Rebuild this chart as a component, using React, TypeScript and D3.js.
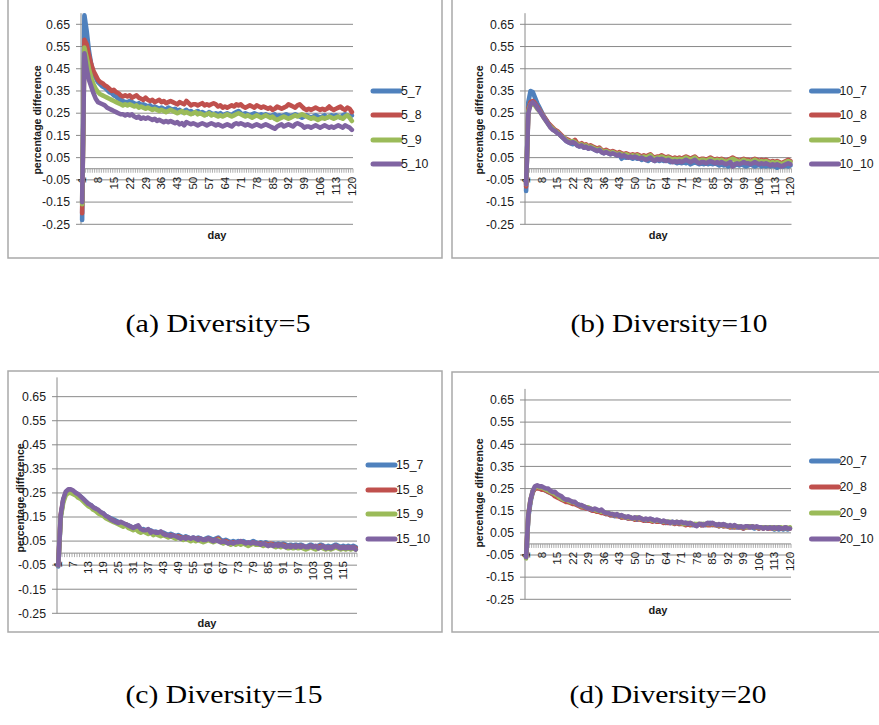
import React from 'react';
import * as d3 from 'd3';

// categories (days) and the labelled ones
const days = d3.range(1, 121);
const ticks7 = [1, 8, 15, 22, 29, 36, 43, 50, 57, 64, 71, 78, 85, 92, 99, 106, 113, 120];
const ticks6 = [1, 7, 13, 19, 25, 31, 37, 43, 49, 55, 61, 67, 73, 79, 85, 91, 97, 103, 109, 115];
const yTicks = [-0.25, -0.15, -0.05, 0.05, 0.15, 0.25, 0.35, 0.45, 0.55, 0.65];
const colors = ['#4F81BD', '#C0504D', '#9BBB59', '#8064A2'];

// Diversity = 5
const d5_7 = [
  -0.23, 0.69, 0.62, 0.53, 0.47, 0.43, 0.41, 0.39, 0.38, 0.37, 0.365, 0.355, 0.345, 0.34, 0.33, 0.325, 0.315, 0.31, 0.305, 0.30,
  0.30, 0.305, 0.30, 0.295, 0.29, 0.295, 0.285, 0.29, 0.285, 0.28, 0.285, 0.275, 0.28, 0.275, 0.27, 0.275, 0.27, 0.265, 0.275, 0.27,
  0.265, 0.27, 0.26, 0.265, 0.255, 0.26, 0.265, 0.255, 0.26, 0.25, 0.255, 0.26, 0.25, 0.255, 0.25, 0.245, 0.255, 0.25, 0.245, 0.25,
  0.245, 0.25, 0.24, 0.245, 0.25, 0.245, 0.24, 0.25, 0.255, 0.26, 0.25, 0.245, 0.25, 0.245, 0.24, 0.245, 0.25, 0.245, 0.24, 0.245,
  0.24, 0.245, 0.24, 0.235, 0.24, 0.245, 0.235, 0.24, 0.235, 0.24, 0.245, 0.24, 0.235, 0.24, 0.245, 0.24, 0.235, 0.23, 0.235, 0.24,
  0.235, 0.23, 0.235, 0.24, 0.235, 0.23, 0.235, 0.24, 0.23, 0.235, 0.24, 0.235, 0.24, 0.235, 0.23, 0.24, 0.245, 0.24, 0.235, 0.24,
];
const d5_8 = [
  -0.20, 0.58, 0.56, 0.51, 0.47, 0.44, 0.42, 0.40, 0.39, 0.385, 0.375, 0.37, 0.36, 0.35, 0.355, 0.345, 0.34, 0.33, 0.325, 0.33,
  0.325, 0.33, 0.32, 0.325, 0.33, 0.32, 0.315, 0.31, 0.32, 0.31, 0.305, 0.31, 0.30, 0.305, 0.31, 0.30, 0.305, 0.295, 0.30, 0.305,
  0.30, 0.295, 0.29, 0.30, 0.295, 0.29, 0.305, 0.295, 0.285, 0.29, 0.29, 0.285, 0.29, 0.295, 0.285, 0.29, 0.285, 0.29, 0.295, 0.29,
  0.28, 0.285, 0.275, 0.28, 0.275, 0.28, 0.285, 0.28, 0.29, 0.285, 0.29, 0.28, 0.275, 0.28, 0.285, 0.28, 0.275, 0.285, 0.28, 0.275,
  0.28, 0.275, 0.27, 0.275, 0.265, 0.27, 0.28, 0.275, 0.27, 0.275, 0.28, 0.29, 0.285, 0.28, 0.275, 0.285, 0.29, 0.28, 0.27, 0.265,
  0.27, 0.265, 0.27, 0.275, 0.27, 0.265, 0.27, 0.265, 0.27, 0.28, 0.27, 0.265, 0.27, 0.275, 0.28, 0.27, 0.265, 0.275, 0.27, 0.255,
];
const d5_9 = [
  -0.16, 0.545, 0.50, 0.45, 0.41, 0.38, 0.36, 0.345, 0.335, 0.33, 0.325, 0.32, 0.315, 0.31, 0.305, 0.30, 0.295, 0.29, 0.285, 0.29,
  0.285, 0.29, 0.285, 0.28, 0.285, 0.275, 0.28, 0.275, 0.27, 0.275, 0.27, 0.265, 0.27, 0.265, 0.26, 0.265, 0.26, 0.255, 0.26, 0.265,
  0.26, 0.255, 0.25, 0.255, 0.26, 0.25, 0.255, 0.25, 0.245, 0.25, 0.255, 0.245, 0.25, 0.245, 0.24, 0.245, 0.25, 0.24, 0.245, 0.24,
  0.235, 0.24, 0.235, 0.24, 0.245, 0.24, 0.235, 0.24, 0.245, 0.25, 0.245, 0.24, 0.235, 0.24, 0.235, 0.23, 0.235, 0.24, 0.235, 0.23,
  0.235, 0.24, 0.235, 0.23, 0.235, 0.225, 0.22, 0.225, 0.23, 0.235, 0.23, 0.225, 0.23, 0.235, 0.24, 0.235, 0.24, 0.245, 0.24, 0.235,
  0.23, 0.225, 0.23, 0.225, 0.22, 0.225, 0.23, 0.225, 0.23, 0.235, 0.23, 0.225, 0.23, 0.235, 0.23, 0.225, 0.235, 0.24, 0.23, 0.215,
];
const d5_10 = [
  -0.15, 0.52, 0.45, 0.40, 0.37, 0.34, 0.315, 0.30, 0.295, 0.29, 0.285, 0.275, 0.27, 0.265, 0.26, 0.255, 0.25, 0.245, 0.245, 0.24,
  0.245, 0.24, 0.245, 0.235, 0.23, 0.235, 0.225, 0.23, 0.225, 0.23, 0.225, 0.22, 0.225, 0.215, 0.22, 0.215, 0.21, 0.215, 0.21, 0.215,
  0.21, 0.205, 0.21, 0.20, 0.205, 0.195, 0.21, 0.205, 0.20, 0.205, 0.20, 0.195, 0.20, 0.205, 0.20, 0.195, 0.20, 0.205, 0.20, 0.195,
  0.20, 0.195, 0.19, 0.195, 0.20, 0.195, 0.19, 0.20, 0.205, 0.20, 0.205, 0.20, 0.195, 0.20, 0.195, 0.19, 0.195, 0.20, 0.195, 0.19,
  0.195, 0.20, 0.195, 0.19, 0.185, 0.18, 0.19, 0.195, 0.20, 0.19, 0.195, 0.20, 0.195, 0.19, 0.20, 0.205, 0.20, 0.195, 0.185, 0.19,
  0.19, 0.185, 0.19, 0.195, 0.19, 0.185, 0.19, 0.195, 0.19, 0.185, 0.19, 0.185, 0.19, 0.195, 0.19, 0.185, 0.195, 0.19, 0.185, 0.175,
];

// Diversity = 10
const d10_7 = [
  -0.10, 0.30, 0.35, 0.345, 0.32, 0.295, 0.275, 0.255, 0.235, 0.22, 0.205, 0.19, 0.18, 0.17, 0.165, 0.155, 0.145, 0.135, 0.125, 0.12,
  0.115, 0.11, 0.115, 0.105, 0.10, 0.105, 0.095, 0.10, 0.09, 0.095, 0.09, 0.085, 0.08, 0.085, 0.075, 0.07, 0.075, 0.07, 0.065, 0.07,
  0.065, 0.06, 0.065, 0.045, 0.055, 0.05, 0.055, 0.05, 0.045, 0.05, 0.045, 0.05, 0.04, 0.045, 0.04, 0.035, 0.045, 0.04, 0.035, 0.04,
  0.035, 0.04, 0.035, 0.04, 0.035, 0.03, 0.035, 0.03, 0.025, 0.03, 0.025, 0.03, 0.025, 0.03, 0.02, 0.025, 0.03, 0.025, 0.02, 0.025,
  0.02, 0.025, 0.02, 0.025, 0.02, 0.025, 0.02, 0.015, 0.02, 0.015, 0.02, 0.01, 0.015, 0.02, 0.015, 0.02, 0.015, 0.02, 0.015, 0.01,
  0.015, 0.02, 0.015, 0.01, 0.015, 0.02, 0.01, 0.015, 0.01, 0.015, 0.01, 0.015, 0.01, 0.005, 0.01, 0.015, 0.01, 0.015, 0.01, 0.015,
];
const d10_8 = [
  -0.08, 0.27, 0.30, 0.305, 0.295, 0.28, 0.265, 0.25, 0.235, 0.22, 0.205, 0.195, 0.185, 0.175, 0.17, 0.16, 0.15, 0.14, 0.135, 0.13,
  0.125, 0.12, 0.13, 0.115, 0.11, 0.115, 0.105, 0.11, 0.10, 0.105, 0.10, 0.095, 0.09, 0.095, 0.085, 0.08, 0.085, 0.08, 0.075, 0.08,
  0.075, 0.07, 0.075, 0.07, 0.065, 0.07, 0.065, 0.06, 0.065, 0.06, 0.065, 0.06, 0.055, 0.06, 0.055, 0.06, 0.065, 0.055, 0.05, 0.055,
  0.055, 0.06, 0.055, 0.05, 0.055, 0.05, 0.045, 0.05, 0.045, 0.05, 0.045, 0.05, 0.055, 0.05, 0.045, 0.05, 0.055, 0.045, 0.04, 0.045,
  0.045, 0.04, 0.045, 0.05, 0.045, 0.04, 0.045, 0.04, 0.045, 0.04, 0.035, 0.04, 0.045, 0.05, 0.045, 0.04, 0.035, 0.04, 0.045, 0.04,
  0.04, 0.035, 0.04, 0.045, 0.04, 0.035, 0.04, 0.035, 0.04, 0.035, 0.03, 0.035, 0.03, 0.035, 0.03, 0.025, 0.03, 0.035, 0.04, 0.035,
];
const d10_9 = [
  -0.07, 0.26, 0.29, 0.29, 0.285, 0.27, 0.26, 0.245, 0.23, 0.215, 0.20, 0.19, 0.18, 0.17, 0.165, 0.155, 0.145, 0.14, 0.13, 0.125,
  0.12, 0.125, 0.12, 0.11, 0.105, 0.11, 0.10, 0.105, 0.095, 0.10, 0.095, 0.09, 0.085, 0.09, 0.08, 0.075, 0.08, 0.075, 0.07, 0.075,
  0.07, 0.065, 0.07, 0.065, 0.06, 0.065, 0.06, 0.055, 0.06, 0.055, 0.06, 0.055, 0.05, 0.055, 0.05, 0.055, 0.06, 0.05, 0.045, 0.05,
  0.05, 0.055, 0.05, 0.045, 0.05, 0.045, 0.04, 0.045, 0.04, 0.045, 0.04, 0.045, 0.05, 0.045, 0.04, 0.045, 0.05, 0.04, 0.035, 0.04,
  0.04, 0.035, 0.04, 0.045, 0.04, 0.035, 0.04, 0.035, 0.04, 0.035, 0.03, 0.035, 0.04, 0.045, 0.04, 0.035, 0.03, 0.035, 0.04, 0.035,
  0.035, 0.03, 0.035, 0.04, 0.035, 0.03, 0.035, 0.03, 0.035, 0.03, 0.025, 0.03, 0.025, 0.03, 0.025, 0.02, 0.025, 0.03, 0.035, 0.03,
];
const d10_10 = [
  -0.07, 0.25, 0.29, 0.30, 0.29, 0.275, 0.26, 0.245, 0.23, 0.215, 0.20, 0.185, 0.175, 0.17, 0.16, 0.155, 0.145, 0.135, 0.125, 0.12,
  0.115, 0.12, 0.115, 0.105, 0.10, 0.105, 0.095, 0.10, 0.09, 0.095, 0.09, 0.085, 0.08, 0.085, 0.075, 0.07, 0.075, 0.07, 0.065, 0.07,
  0.065, 0.06, 0.065, 0.055, 0.06, 0.055, 0.05, 0.055, 0.05, 0.055, 0.05, 0.045, 0.05, 0.045, 0.04, 0.045, 0.05, 0.04, 0.035, 0.045,
  0.04, 0.045, 0.04, 0.035, 0.04, 0.035, 0.03, 0.035, 0.03, 0.035, 0.03, 0.035, 0.04, 0.035, 0.03, 0.035, 0.04, 0.03, 0.025, 0.03,
  0.03, 0.025, 0.03, 0.035, 0.03, 0.025, 0.03, 0.025, 0.03, 0.025, 0.02, 0.025, 0.03, 0.01, 0.02, 0.025, 0.02, 0.025, 0.03, 0.025,
  0.025, 0.02, 0.025, 0.03, 0.025, 0.02, 0.025, 0.02, 0.025, 0.02, 0.015, 0.02, 0.015, 0.02, 0.015, 0.01, 0.015, 0.02, 0.025, 0.02,
];

// Diversity = 15
const d15_7 = [
  -0.055, 0.15, 0.22, 0.25, 0.26, 0.26, 0.255, 0.25, 0.24, 0.235, 0.225, 0.215, 0.205, 0.20, 0.19, 0.185, 0.175, 0.17, 0.165, 0.155,
  0.15, 0.145, 0.14, 0.135, 0.13, 0.125, 0.12, 0.12, 0.115, 0.11, 0.105, 0.11, 0.10, 0.095, 0.10, 0.095, 0.09, 0.095, 0.085, 0.09,
  0.085, 0.08, 0.085, 0.08, 0.075, 0.08, 0.075, 0.07, 0.075, 0.07, 0.065, 0.07, 0.065, 0.06, 0.065, 0.06, 0.065, 0.06, 0.055, 0.06,
  0.065, 0.06, 0.055, 0.06, 0.065, 0.055, 0.05, 0.055, 0.05, 0.045, 0.05, 0.045, 0.05, 0.045, 0.05, 0.045, 0.04, 0.045, 0.05, 0.045,
  0.04, 0.045, 0.04, 0.045, 0.04, 0.035, 0.04, 0.035, 0.04, 0.035, 0.04, 0.035, 0.03, 0.035, 0.03, 0.035, 0.03, 0.035, 0.03, 0.025,
  0.03, 0.035, 0.03, 0.025, 0.03, 0.035, 0.03, 0.025, 0.03, 0.025, 0.03, 0.035, 0.03, 0.025, 0.03, 0.025, 0.03, 0.025, 0.03, 0.025,
];
const d15_8 = [
  -0.05, 0.16, 0.22, 0.25, 0.255, 0.255, 0.25, 0.245, 0.235, 0.23, 0.22, 0.21, 0.20, 0.195, 0.185, 0.18, 0.17, 0.165, 0.16, 0.15,
  0.145, 0.14, 0.135, 0.13, 0.125, 0.12, 0.115, 0.12, 0.11, 0.105, 0.10, 0.105, 0.095, 0.09, 0.095, 0.09, 0.085, 0.09, 0.08, 0.085,
  0.08, 0.075, 0.08, 0.075, 0.07, 0.075, 0.07, 0.065, 0.07, 0.065, 0.06, 0.065, 0.06, 0.055, 0.06, 0.055, 0.06, 0.055, 0.05, 0.055,
  0.06, 0.055, 0.05, 0.055, 0.06, 0.05, 0.045, 0.05, 0.045, 0.04, 0.045, 0.04, 0.045, 0.04, 0.045, 0.04, 0.035, 0.04, 0.045, 0.04,
  0.04, 0.04, 0.035, 0.04, 0.035, 0.04, 0.035, 0.03, 0.035, 0.03, 0.035, 0.03, 0.025, 0.03, 0.025, 0.03, 0.025, 0.03, 0.025, 0.02,
  0.025, 0.03, 0.025, 0.02, 0.025, 0.03, 0.025, 0.02, 0.025, 0.02, 0.025, 0.03, 0.025, 0.02, 0.025, 0.02, 0.025, 0.02, 0.025, 0.02,
];
const d15_9 = [
  -0.05, 0.15, 0.21, 0.24, 0.25, 0.25, 0.245, 0.24, 0.23, 0.225, 0.215, 0.205, 0.195, 0.19, 0.18, 0.175, 0.165, 0.16, 0.155, 0.145,
  0.14, 0.135, 0.13, 0.125, 0.12, 0.115, 0.11, 0.115, 0.105, 0.10, 0.095, 0.10, 0.09, 0.085, 0.09, 0.085, 0.08, 0.085, 0.075, 0.08,
  0.075, 0.07, 0.075, 0.07, 0.065, 0.07, 0.065, 0.06, 0.065, 0.06, 0.055, 0.06, 0.055, 0.05, 0.055, 0.05, 0.055, 0.05, 0.045, 0.05,
  0.055, 0.05, 0.045, 0.05, 0.055, 0.045, 0.04, 0.045, 0.04, 0.035, 0.04, 0.035, 0.04, 0.035, 0.04, 0.035, 0.03, 0.035, 0.04, 0.035,
  0.035, 0.035, 0.03, 0.035, 0.03, 0.035, 0.03, 0.025, 0.03, 0.025, 0.03, 0.025, 0.02, 0.025, 0.02, 0.025, 0.02, 0.025, 0.02, 0.015,
  0.02, 0.025, 0.02, 0.015, 0.02, 0.025, 0.02, 0.015, 0.02, 0.015, 0.02, 0.025, 0.02, 0.015, 0.02, 0.015, 0.02, 0.015, 0.02, 0.015,
];
const d15_10 = [
  -0.05, 0.16, 0.225, 0.255, 0.265, 0.265, 0.26, 0.25, 0.245, 0.235, 0.225, 0.215, 0.205, 0.20, 0.19, 0.185, 0.18, 0.17, 0.165, 0.155,
  0.15, 0.14, 0.135, 0.13, 0.125, 0.13, 0.125, 0.12, 0.115, 0.11, 0.105, 0.11, 0.115, 0.10, 0.095, 0.095, 0.10, 0.085, 0.09, 0.085,
  0.085, 0.09, 0.08, 0.075, 0.075, 0.07, 0.075, 0.07, 0.065, 0.06, 0.065, 0.06, 0.065, 0.06, 0.065, 0.06, 0.055, 0.06, 0.055, 0.055,
  0.06, 0.055, 0.05, 0.055, 0.05, 0.045, 0.05, 0.045, 0.04, 0.045, 0.04, 0.045, 0.045, 0.05, 0.045, 0.04, 0.045, 0.04, 0.045, 0.04,
  0.04, 0.035, 0.04, 0.035, 0.03, 0.035, 0.03, 0.035, 0.03, 0.035, 0.03, 0.025, 0.03, 0.025, 0.03, 0.025, 0.03, 0.025, 0.03, 0.025,
  0.025, 0.03, 0.025, 0.03, 0.02, 0.025, 0.03, 0.02, 0.025, 0.02, 0.025, 0.03, 0.025, 0.02, 0.025, 0.02, 0.025, 0.02, 0.025, 0.015,
];

// Diversity = 20
const d20_7 = [
  -0.06, 0.12, 0.19, 0.235, 0.25, 0.255, 0.25, 0.25, 0.245, 0.24, 0.235, 0.23, 0.225, 0.22, 0.215, 0.21, 0.205, 0.20, 0.195, 0.19,
  0.19, 0.185, 0.18, 0.18, 0.175, 0.17, 0.165, 0.165, 0.16, 0.155, 0.15, 0.155, 0.15, 0.145, 0.145, 0.14, 0.135, 0.135, 0.13, 0.13,
  0.125, 0.13, 0.125, 0.12, 0.125, 0.12, 0.115, 0.12, 0.115, 0.115, 0.11, 0.115, 0.11, 0.11, 0.105, 0.11, 0.105, 0.11, 0.105, 0.10,
  0.105, 0.10, 0.10, 0.095, 0.10, 0.095, 0.10, 0.095, 0.095, 0.09, 0.095, 0.09, 0.095, 0.09, 0.09, 0.085, 0.09, 0.085, 0.09, 0.085,
  0.09, 0.085, 0.09, 0.095, 0.085, 0.09, 0.085, 0.08, 0.085, 0.08, 0.085, 0.08, 0.08, 0.075, 0.08, 0.075, 0.08, 0.075, 0.07, 0.075,
  0.075, 0.08, 0.075, 0.07, 0.075, 0.07, 0.075, 0.07, 0.075, 0.07, 0.075, 0.07, 0.065, 0.07, 0.065, 0.07, 0.065, 0.07, 0.065, 0.07,
];
const d20_8 = [
  -0.055, 0.13, 0.20, 0.235, 0.25, 0.25, 0.25, 0.245, 0.245, 0.24, 0.235, 0.23, 0.225, 0.215, 0.21, 0.205, 0.20, 0.195, 0.19, 0.19,
  0.185, 0.18, 0.18, 0.175, 0.17, 0.165, 0.165, 0.16, 0.16, 0.155, 0.15, 0.15, 0.145, 0.145, 0.14, 0.14, 0.135, 0.135, 0.13, 0.13,
  0.13, 0.125, 0.125, 0.12, 0.12, 0.12, 0.115, 0.115, 0.115, 0.11, 0.115, 0.11, 0.11, 0.105, 0.11, 0.105, 0.105, 0.10, 0.105, 0.10,
  0.10, 0.10, 0.095, 0.10, 0.095, 0.095, 0.095, 0.09, 0.095, 0.09, 0.09, 0.09, 0.085, 0.09, 0.085, 0.09, 0.085, 0.085, 0.09, 0.085,
  0.085, 0.09, 0.085, 0.085, 0.09, 0.085, 0.085, 0.08, 0.085, 0.08, 0.08, 0.08, 0.075, 0.08, 0.075, 0.08, 0.075, 0.075, 0.07, 0.075,
  0.075, 0.075, 0.08, 0.075, 0.075, 0.07, 0.075, 0.07, 0.075, 0.07, 0.07, 0.075, 0.07, 0.07, 0.075, 0.07, 0.07, 0.075, 0.07, 0.07,
];
const d20_9 = [
  -0.065, 0.13, 0.20, 0.24, 0.255, 0.26, 0.255, 0.255, 0.25, 0.245, 0.24, 0.235, 0.23, 0.225, 0.22, 0.21, 0.205, 0.20, 0.20, 0.195,
  0.19, 0.19, 0.185, 0.18, 0.175, 0.17, 0.17, 0.165, 0.165, 0.16, 0.155, 0.155, 0.15, 0.15, 0.145, 0.145, 0.14, 0.14, 0.135, 0.135,
  0.13, 0.13, 0.13, 0.125, 0.125, 0.12, 0.12, 0.12, 0.115, 0.115, 0.12, 0.115, 0.115, 0.11, 0.11, 0.11, 0.11, 0.105, 0.105, 0.105,
  0.105, 0.10, 0.10, 0.10, 0.10, 0.10, 0.095, 0.095, 0.10, 0.095, 0.095, 0.09, 0.09, 0.095, 0.09, 0.09, 0.09, 0.09, 0.09, 0.09,
  0.09, 0.09, 0.09, 0.09, 0.09, 0.09, 0.085, 0.085, 0.085, 0.085, 0.085, 0.08, 0.08, 0.08, 0.08, 0.08, 0.08, 0.075, 0.075, 0.075,
  0.08, 0.08, 0.08, 0.075, 0.075, 0.075, 0.075, 0.075, 0.075, 0.075, 0.075, 0.075, 0.07, 0.075, 0.075, 0.075, 0.07, 0.075, 0.07, 0.075,
];
const d20_10 = [
  -0.06, 0.13, 0.20, 0.24, 0.26, 0.265, 0.26, 0.26, 0.255, 0.25, 0.25, 0.24, 0.235, 0.235, 0.225, 0.22, 0.215, 0.205, 0.20, 0.20,
  0.195, 0.19, 0.19, 0.18, 0.175, 0.175, 0.17, 0.165, 0.16, 0.16, 0.155, 0.16, 0.155, 0.15, 0.155, 0.145, 0.14, 0.14, 0.135, 0.135,
  0.13, 0.135, 0.125, 0.13, 0.125, 0.12, 0.125, 0.12, 0.115, 0.12, 0.115, 0.12, 0.115, 0.11, 0.115, 0.11, 0.115, 0.11, 0.105, 0.11,
  0.105, 0.10, 0.105, 0.10, 0.10, 0.095, 0.10, 0.095, 0.10, 0.095, 0.10, 0.095, 0.095, 0.09, 0.095, 0.09, 0.085, 0.08, 0.09, 0.09,
  0.085, 0.09, 0.095, 0.09, 0.095, 0.09, 0.085, 0.09, 0.085, 0.09, 0.085, 0.08, 0.085, 0.08, 0.085, 0.08, 0.075, 0.08, 0.075, 0.08,
  0.08, 0.075, 0.08, 0.075, 0.08, 0.075, 0.075, 0.07, 0.075, 0.07, 0.075, 0.07, 0.075, 0.07, 0.075, 0.07, 0.07, 0.075, 0.07, 0.07,
];

const names5 = ['5_7', '5_8', '5_9', '5_10'];
const names10 = ['10_7', '10_8', '10_9', '10_10'];
const names15 = ['15_7', '15_8', '15_9', '15_10'];
const names20 = ['20_7', '20_8', '20_9', '20_10'];

// layout of the four panels (pixels)
const panels = [
  {
    caption: '(a) Diversity=5', names: names5, values: [d5_7, d5_8, d5_9, d5_10], labels: ticks7,
    box: [8, -2, 442, 258], plot: { l: 81, r: 353, t: 13.2, b: 224.3 }, yMax: 0.7,
    legendX: 373, legendY: [91, 115, 140, 164], titleX: 37, titleY: 120, dayY: 235, cap: [218, 332, 185],
  },
  {
    caption: '(b) Diversity=10', names: names10, values: [d10_7, d10_8, d10_9, d10_10], labels: ticks7,
    box: [452, -2, 882, 258], plot: { l: 525, r: 791.5, t: 13.2, b: 224.3 }, yMax: 0.7,
    legendX: 811.5, legendY: [91, 115, 140, 164], titleX: 479, titleY: 120, dayY: 235, cap: [669, 332, 197],
  },
  {
    caption: '(c) Diversity=15', names: names15, values: [d15_7, d15_8, d15_9, d15_10], labels: ticks6,
    box: [8, 371, 442, 632], plot: { l: 57, r: 357, t: 377.4, b: 613.3 }, yMax: 0.73,
    legendX: 368, legendY: [465, 490, 514, 539], titleX: 20, titleY: 498, dayY: 623, cap: [224, 703, 197],
  },
  {
    caption: '(d) Diversity=20', names: names20, values: [d20_7, d20_8, d20_9, d20_10], labels: ticks7,
    box: [452, 372, 882, 632], plot: { l: 525, r: 791, t: 388.9, b: 599.3 }, yMax: 0.7,
    legendX: 811.5, legendY: [461, 487, 513, 539], titleX: 479, titleY: 493, dayY: 610, cap: [668, 703, 197],
  },
];

const sans = 'Liberation Sans, Arial, sans-serif';
const gridColor = '#8a8a8a';

function Panel({ p }) {
  const { l, r, t, b } = p.plot;
  const x = d3.scaleBand().domain(days).range([l, r]).padding(0);
  const y = d3.scaleLinear().domain([-0.25, p.yMax]).range([b, t]);
  const bw = x.bandwidth();
  const line = d3.line().x((d, i) => x(days[i]) + bw / 2).y((d) => y(d)).curve(d3.curveLinear);
  const y0 = y(0);
  const [bx0, by0, bx1, by1] = p.box;

  return (
    <g>
      <rect x={bx0} y={by0} width={bx1 - bx0} height={by1 - by0} fill="#fff" stroke="#a9a9a9" strokeWidth={1.5} />
      {yTicks.map((v) => (
        <g key={v}>
          <line x1={l - 5} x2={r} y1={y(v)} y2={y(v)} stroke={gridColor} strokeWidth={1} />
          <text x={l - 11} y={y(v)} dy="0.35em" textAnchor="end" fontFamily={sans} fontSize={12.3} fill="#1a1a1a">
            {v.toFixed(2)}
          </text>
        </g>
      ))}
      <line x1={l} x2={l} y1={t} y2={b} stroke={gridColor} strokeWidth={1} />
      {/* category axis at zero, one tick per category boundary */}
      <line x1={l} x2={r} y1={y0} y2={y0} stroke={gridColor} strokeWidth={1} />
      {days.concat([days.length + 1]).map((d, i) => (
        <line key={d} x1={l + i * bw} x2={l + i * bw} y1={y0} y2={y0 + 4} stroke="#9a9a9a" strokeWidth={0.8} />
      ))}
      {p.labels.map((d) => (
        <text
          key={d}
          transform={`translate(${x(d) + bw / 2},${y0 + 8}) rotate(-90)`}
          dy="0.35em"
          textAnchor="end"
          fontFamily={sans}
          fontSize={11.5}
          fill="#1a1a1a"
        >
          {d}
        </text>
      ))}
      {p.values.map((vals, i) => (
        <path key={i} d={line(vals)} fill="none" stroke={colors[i]} strokeWidth={4.6} strokeLinejoin="round" strokeLinecap="round" />
      ))}
      {p.names.map((n, i) => (
        <g key={n}>
          <line x1={p.legendX} x2={p.legendX + 27} y1={p.legendY[i]} y2={p.legendY[i]} stroke={colors[i]} strokeWidth={5} strokeLinecap="round" />
          <text x={p.legendX + 28} y={p.legendY[i]} dy="0.35em" fontFamily={sans} fontSize={12.3} fill="#1a1a1a">
            {n}
          </text>
        </g>
      ))}
      <text
        transform={`translate(${p.titleX},${p.titleY}) rotate(-90)`}
        dy="0.35em"
        textAnchor="middle"
        fontFamily={sans}
        fontWeight="bold"
        fontSize={10.5}
        fill="#1a1a1a"
      >
        percentage difference
      </text>
      <text x={(l + r) / 2} y={p.dayY} dy="0.35em" textAnchor="middle" fontFamily={sans} fontWeight="bold" fontSize={11} fill="#1a1a1a">
        day
      </text>
      <text
        x={p.cap[0]}
        y={p.cap[1]}
        textAnchor="middle"
        fontFamily="Liberation Serif, Times New Roman, serif"
        fontSize={25}
        textLength={p.cap[2]}
        lengthAdjust="spacingAndGlyphs"
        fill="#000"
      >
        {p.caption}
      </text>
    </g>
  );
}

export default function App() {
  return (
    <svg width={879} height={725} style={{ position: 'absolute', left: 0, top: 0, background: '#fff' }}>
      <rect x={0} y={0} width={879} height={725} fill="#fff" />
      {panels.map((p) => (
        <Panel key={p.caption} p={p} />
      ))}
    </svg>
  );
}
